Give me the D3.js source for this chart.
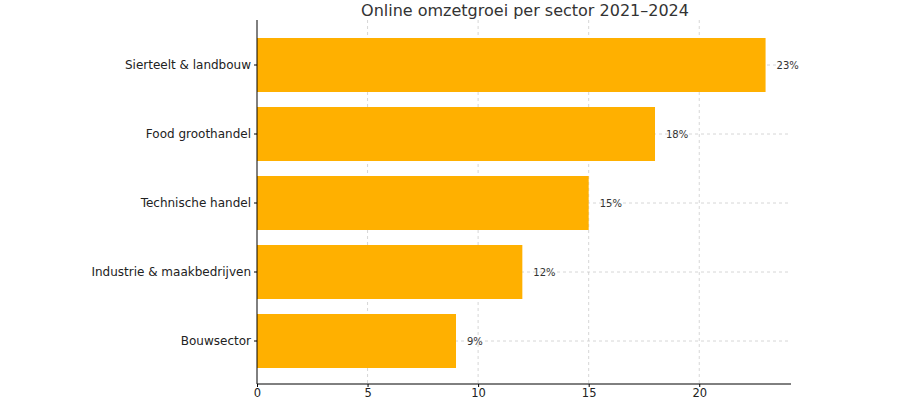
<!DOCTYPE html>
<html><head><meta charset="utf-8">
<script src="https://cdn.jsdelivr.net/npm/d3@7"></script>
<style>body{margin:0;background:#fff}</style></head>
<body><svg id="c" width="900" height="400"></svg>
<script>
const categories = ["Sierteelt & landbouw","Food groothandel","Technische handel","Industrie & maakbedrijven","Bouwsector"];
const values = [23,18,15,12,9];
const xTicks = [0,5,10,15,20];
const title = "Online omzetgroei per sector 2021–2024";

const svg = d3.select("#c");
const m = {l:257, r:109};
const W = 900;
const axisY = 384;
const x = d3.scaleLinear().domain([0, 24.15]).range([m.l, W - m.r]);
const y = d3.scaleBand().domain(categories).range([30.5, 375.5]).paddingInner(15/69).paddingOuter(15/69/2);
const font = "DejaVu Sans, sans-serif";

// grid
svg.append("g").selectAll("line").data(xTicks.slice(1)).join("line")
  .attr("x1", d=>x(d)).attr("x2", d=>x(d)).attr("y1", 20).attr("y2", axisY)
  .attr("stroke", "#ccc").attr("stroke-dasharray", "3,3").attr("stroke-width", 0.8);
svg.append("g").selectAll("line").data(categories).join("line")
  .attr("x1", m.l).attr("x2", x(24.15)).attr("y1", d=>y(d)+y.bandwidth()/2).attr("y2", d=>y(d)+y.bandwidth()/2)
  .attr("stroke", "#ccc").attr("stroke-dasharray", "3,3").attr("stroke-width", 0.8);

// bars
svg.append("g").selectAll("rect").data(categories).join("rect")
  .attr("x", x(0)).attr("y", d=>y(d)).attr("height", y.bandwidth())
  .attr("width", (d,i)=>x(values[i]) - x(0)).attr("fill", "#FFB000");

// value labels
svg.append("g").selectAll("text").data(categories).join("text")
  .attr("x", (d,i)=>x(values[i]) + 11).attr("y", d=>y(d)+y.bandwidth()/2)
  .attr("dominant-baseline", "central").attr("font-family", font).attr("font-size", 10).attr("fill", "#333")
  .text((d,i)=>values[i] + "%");

// axes
const xa = svg.append("g").attr("transform", `translate(0,${axisY})`)
  .call(d3.axisBottom(x).tickValues(xTicks).tickSize(3).tickPadding(2).tickSizeOuter(0));
xa.selectAll("text").attr("font-family", font).attr("font-size", 11.5).attr("fill", "#222");
const ya = svg.append("g").attr("transform", `translate(${m.l},0)`)
  .call(d3.axisLeft(y).tickSize(3).tickPadding(3).tickSizeOuter(0));
ya.selectAll("text").attr("font-family", font).attr("font-size", 12).attr("fill", "#222");
ya.select(".domain").attr("d", `M0,20V${axisY}`);
xa.select(".domain").attr("d", `M${m.l},0H${x(24.15)}`);

svg.append("text").attr("x", 525).attr("y", 16).attr("text-anchor", "middle")
  .attr("font-family", font).attr("font-size", 16).attr("fill", "#333").text(title);
</script></body></html>
